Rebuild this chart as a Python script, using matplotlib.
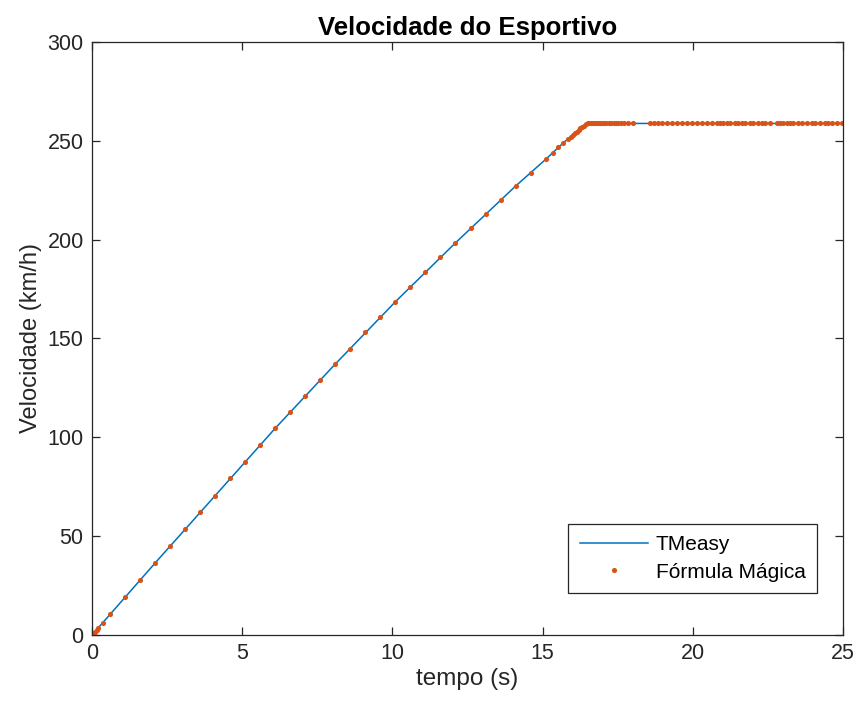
import matplotlib
matplotlib.use("Agg")
import matplotlib.pyplot as plt

# TMeasy simulation curve (time in s, speed in km/h)
tmeasy_t = [0, 0.6, 2.1, 4.1, 6.1, 8.1, 10.1, 12.1, 14.1, 15.1, 15.69, 16.0, 16.3, 16.5, 16.6, 25]
tmeasy_v = [0, 10.4, 36.4, 70.5, 104.6, 137.1, 168.6, 198.4, 227.1, 240.6, 249.0, 253.0, 256.7, 258.8, 258.8, 258.8]

# "Formula Magica" samples
formula_t = [0, 0.02, 0.05, 0.1, 0.15, 0.21, 0.36, 0.6, 1.1, 1.6, 2.1, 2.6, 3.1, 3.6, 4.1,
             4.6, 5.1, 5.6, 6.1, 6.6, 7.1, 7.6, 8.1, 8.6, 9.1, 9.6, 10.1, 10.6, 11.1, 11.6,
             12.1, 12.6, 13.1, 13.6, 14.1, 14.6, 15.1, 15.34, 15.52, 15.69, 15.85, 15.93,
             16.0, 16.07, 16.13, 16.2, 16.26, 16.32, 16.38, 16.44, 16.5,
             16.56, 16.62, 16.68, 16.74, 16.8, 16.86, 16.92, 16.98, 17.05, 17.12, 17.2,
             17.28, 17.36, 17.44, 17.52, 17.6, 17.7, 17.84, 18.01,
             18.58, 18.71, 18.84, 18.98, 19.14, 19.31, 19.47, 19.64, 19.81, 19.97, 20.14,
             20.30, 20.46, 20.63, 20.80, 20.90, 21.02, 21.13, 21.24, 21.41, 21.51, 21.63,
             21.74, 21.90, 22.01, 22.18, 22.29, 22.40, 22.57, 22.79, 22.90, 23.01, 23.13,
             23.24, 23.35, 23.51, 23.63, 23.79, 23.96, 24.07, 24.24, 24.40, 24.51, 24.62,
             24.79, 24.96]
formula_v = [0, 0.3, 0.8, 1.7, 2.6, 3.6, 6.2, 10.4, 19.1, 27.8, 36.4, 45.0, 53.5, 62.1, 70.5,
             79.3, 87.7, 96.1, 104.6, 112.6, 120.7, 129.0, 137.1, 144.8, 153.1, 160.7, 168.6,
             176.2, 183.8, 191.4, 198.4, 205.7, 212.9, 220.0, 227.1, 233.8, 240.6, 244.0,
             246.7, 249.0, 251.0, 252.0, 253.0, 253.9, 254.7, 255.5, 256.3, 257.0, 257.7,
             258.3, 258.8,
             258.8, 258.8, 258.8, 258.8, 258.8, 258.8, 258.8, 258.8, 258.8, 258.8, 258.8,
             258.8, 258.8, 258.8, 258.8, 258.8, 258.8, 258.8, 258.8,
             258.8, 258.8, 258.8, 258.8, 258.8, 258.8, 258.8, 258.8, 258.8, 258.8, 258.8,
             258.8, 258.8, 258.8, 258.8, 258.8, 258.8, 258.8, 258.8, 258.8, 258.8, 258.8,
             258.8, 258.8, 258.8, 258.8, 258.8, 258.8, 258.8, 258.8, 258.8, 258.8, 258.8,
             258.8, 258.8, 258.8, 258.8, 258.8, 258.8, 258.8, 258.8, 258.8, 258.8, 258.8,
             258.8, 258.8]

x_ticks = [0, 5, 10, 15, 20, 25]
y_ticks = [0, 50, 100, 150, 200, 250, 300]

plt.rcParams['font.family'] = ['Liberation Sans', 'DejaVu Sans']
axis_color = "#262626"

fig = plt.figure(figsize=(8.59, 7.13), dpi=100)
ax = fig.add_axes([0.1071, 0.1094, 0.8743, 0.8317])

ax.plot(tmeasy_t, tmeasy_v, color="#0072BD", linewidth=1.1, label="TMeasy")
ax.plot(formula_t, formula_v, linestyle="none", marker="o", markersize=3.7,
        markeredgewidth=0, color="#D95319", label="Fórmula Mágica")

ax.set_xlim(0, 25)
ax.set_ylim(0, 300)
ax.set_xticks(x_ticks)
ax.set_yticks(y_ticks)

ax.tick_params(direction="in", length=6, width=0.9, top=True, right=True,
               labelsize=15.5, colors=axis_color, pad=6)
for side in ax.spines.values():
    side.set_color(axis_color)
    side.set_linewidth(0.9)

ax.set_xlabel("tempo (s)", fontsize=17.5, color=axis_color, labelpad=3)
ax.set_ylabel("Velocidade (km/h)", fontsize=17, color=axis_color, labelpad=4)
ax.set_title("Velocidade do Esportivo", fontsize=18.5, fontweight="bold", color="black", pad=5)

# legend sized to match the boxed MATLAB-style legend
leg = ax.legend(loc="lower right", bbox_to_anchor=(0.9654, 0.0708), borderaxespad=0,
                fontsize=15, fancybox=False, framealpha=1, edgecolor=axis_color,
                borderpad=0.55, labelspacing=0.4,
                handlelength=3.3, handletextpad=0.35, markerscale=1.0)
leg.get_frame().set_linewidth(0.9)

fig.savefig("out.png", dpi=100)
